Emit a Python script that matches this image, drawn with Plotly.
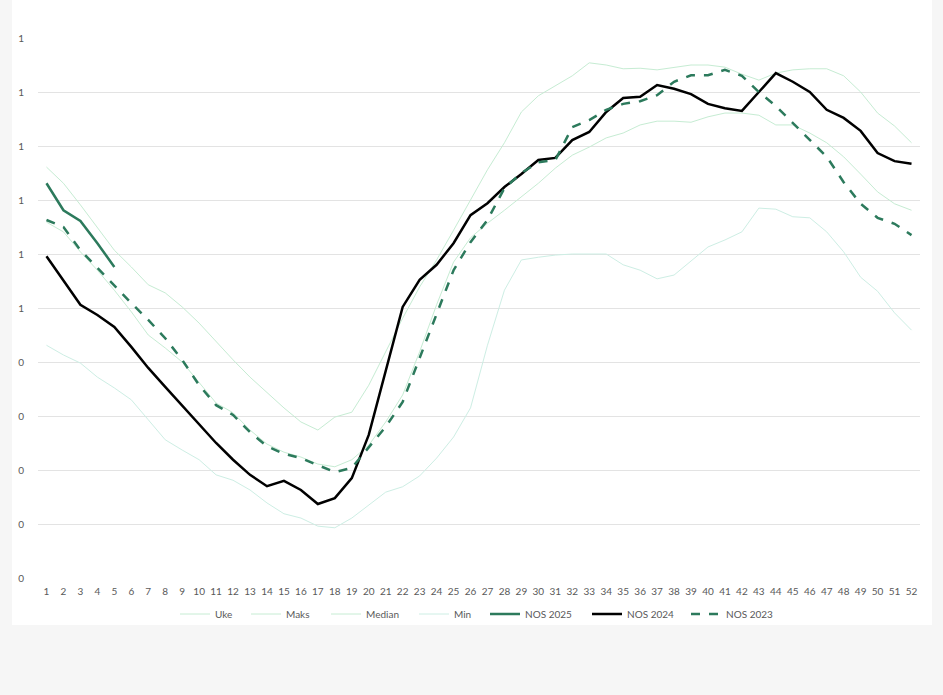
import plotly.graph_objects as go

weeks = list(range(1, 53))
week_labels = [str(w) for w in weeks]

y_tickvals = [0, 0.1, 0.2, 0.3, 0.4, 0.5, 0.6, 0.7, 0.8, 0.9, 1.0]
y_ticktext = ["0", "0", "0", "0", "0", "1", "1", "1", "1", "1", "1"]

maks = [0.761, 0.731, 0.691, 0.648, 0.607, 0.576, 0.543, 0.528, 0.502, 0.472,
        0.437, 0.404, 0.372, 0.343, 0.315, 0.289, 0.274, 0.298, 0.307, 0.357,
        0.419, 0.481, 0.539, 0.589, 0.644, 0.700, 0.756, 0.806, 0.863, 0.893,
        0.911, 0.930, 0.954, 0.950, 0.943, 0.944, 0.941, 0.946, 0.950, 0.950,
        0.946, 0.933, 0.922, 0.935, 0.941, 0.943, 0.943, 0.930, 0.900, 0.861,
        0.837, 0.806]

median = [0.659, 0.641, 0.604, 0.570, 0.533, 0.493, 0.450, 0.426, 0.400, 0.361,
          0.324, 0.306, 0.274, 0.248, 0.233, 0.224, 0.211, 0.206, 0.219, 0.246,
          0.289, 0.339, 0.419, 0.506, 0.585, 0.630, 0.657, 0.681, 0.706, 0.731,
          0.759, 0.783, 0.798, 0.815, 0.824, 0.839, 0.846, 0.846, 0.844, 0.854,
          0.861, 0.861, 0.857, 0.839, 0.839, 0.824, 0.806, 0.780, 0.748, 0.715,
          0.693, 0.681]

minimum = [0.431, 0.413, 0.398, 0.372, 0.352, 0.330, 0.293, 0.256, 0.237, 0.219,
           0.191, 0.181, 0.163, 0.139, 0.119, 0.111, 0.096, 0.093, 0.111, 0.135,
           0.159, 0.169, 0.189, 0.222, 0.261, 0.315, 0.431, 0.533, 0.589, 0.594,
           0.598, 0.600, 0.600, 0.600, 0.580, 0.570, 0.554, 0.561, 0.587, 0.613,
           0.626, 0.641, 0.685, 0.683, 0.669, 0.667, 0.641, 0.604, 0.557, 0.531,
           0.491, 0.459]

nos_2025 = [0.731, 0.681, 0.661, 0.620, 0.576]

nos_2024 = [0.596, 0.552, 0.506, 0.487, 0.465, 0.428, 0.389, 0.354, 0.320, 0.285,
            0.250, 0.219, 0.191, 0.170, 0.180, 0.163, 0.137, 0.148, 0.185, 0.265,
            0.385, 0.502, 0.552, 0.580, 0.620, 0.672, 0.694, 0.724, 0.748, 0.774,
            0.778, 0.811, 0.826, 0.863, 0.889, 0.891, 0.913, 0.906, 0.896, 0.878,
            0.870, 0.865, 0.900, 0.935, 0.919, 0.900, 0.867, 0.852, 0.828, 0.787,
            0.772, 0.767]

nos_2023 = [0.663, 0.650, 0.607, 0.574, 0.543, 0.509, 0.478, 0.444, 0.404, 0.357,
            0.320, 0.302, 0.270, 0.244, 0.230, 0.222, 0.209, 0.196, 0.204, 0.243,
            0.280, 0.326, 0.407, 0.491, 0.570, 0.622, 0.663, 0.722, 0.750, 0.770,
            0.774, 0.835, 0.848, 0.867, 0.878, 0.883, 0.894, 0.919, 0.931, 0.931,
            0.941, 0.930, 0.900, 0.874, 0.843, 0.811, 0.780, 0.733, 0.693, 0.667,
            0.656, 0.635]

LIGHT = "#c6ecd3"
LIGHT2 = "#cdeee4"
DARK = "#2c7a5c"
FONT = "Lato"
TXT = "#595959"

L, R, T, B = 38, 23, 38, 117
W, H = 943, 695
pw, ph = W - L - R, H - T - B


def px_x(p):
    return (p - L) / pw


def px_y(p):
    return (H - B - p) / ph


# legend entry left positions (pixels) for each series' own legend box
legend_px = [175, 246, 326, 414, 485, 587, 686]
legend_ids = ["legend", "legend2", "legend3", "legend4", "legend5", "legend6", "legend7"]

series = [
    ("Uke", [None], [None], dict(color=LIGHT, width=1)),
    ("Maks", weeks, maks, dict(color=LIGHT, width=1)),
    ("Median", weeks, median, dict(color=LIGHT, width=1)),
    ("Min", weeks, minimum, dict(color=LIGHT2, width=1)),
    ("NOS 2025", weeks[:len(nos_2025)], nos_2025, dict(color=DARK, width=2.5)),
    ("NOS 2024", weeks, nos_2024, dict(color="#000000", width=2.5)),
    ("NOS 2023", weeks, nos_2023, dict(color=DARK, width=2.5, dash="dash")),
]

fig = go.Figure()
for (name, xs, ys, ln), lid in zip(series, legend_ids):
    fig.add_trace(go.Scatter(x=xs, y=ys, name=name, mode="lines", line=ln,
                             legend=lid, showlegend=True))

fig.add_shape(type="rect", xref="paper", yref="paper",
              x0=px_x(12), x1=px_x(932), y0=px_y(625), y1=px_y(0),
              fillcolor="white", line=dict(width=0), layer="below")

legend_layout = {}
for lid, lx in zip(legend_ids, legend_px):
    legend_layout[lid] = dict(orientation="h", x=px_x(lx), xanchor="left",
                              y=px_y(614), yanchor="middle",
                              font=dict(family=FONT, size=10, color=TXT),
                              bgcolor="rgba(0,0,0,0)", borderwidth=0,
                              itemwidth=30)

fig.update_layout(
    width=W, height=H,
    margin=dict(l=L, r=R, t=T, b=B, pad=0),
    paper_bgcolor="#f6f6f6",
    plot_bgcolor="white",
    font=dict(family=FONT, size=10, color=TXT),
    showlegend=True,
    xaxis=dict(range=[0.5, 52.5], tickmode="array", tickvals=weeks,
               ticktext=week_labels, showgrid=False, zeroline=False,
               showline=False, ticks="", tickfont=dict(size=10, color=TXT),
               ticklabelstandoff=6, fixedrange=True),
    yaxis=dict(range=[0, 1.0], tickmode="array", tickvals=y_tickvals,
               ticktext=y_ticktext, showgrid=True, gridcolor="#e3e3e3",
               gridwidth=1, zeroline=False, showline=False, ticks="",
               tickfont=dict(size=10, color=TXT), ticklabelstandoff=13,
               fixedrange=True),
    **legend_layout,
)

fig.write_html("out.html", config={"displayModeBar": False},
               post_script="document.body.style.margin='0px';document.body.style.overflow='hidden';")
